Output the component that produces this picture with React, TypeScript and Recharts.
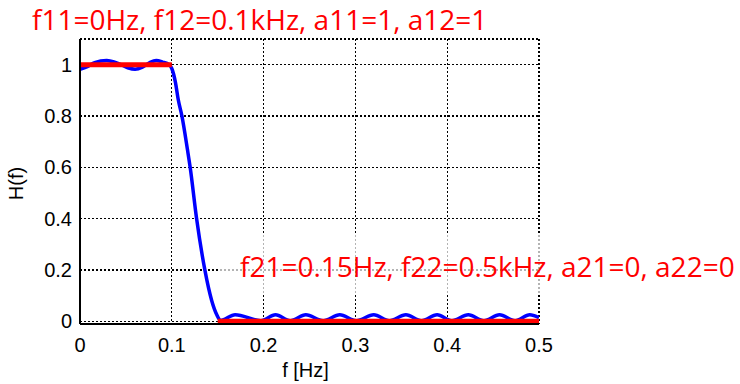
import React from 'react';
import { LineChart, Line, XAxis, YAxis, CartesianGrid, Label } from 'recharts';

// designed frequency response of the low-pass filter
const respFreq = [
  0, 0.008, 0.016, 0.029, 0.042, 0.052, 0.06, 0.068, 0.076, 0.083, 0.09, 0.097,
  0.1, 0.104, 0.107, 0.111, 0.117, 0.12, 0.127, 0.136, 0.1435, 0.149, 0.153,
  0.169, 0.197, 0.213, 0.229, 0.246, 0.265, 0.283, 0.301, 0.32, 0.337, 0.355,
  0.372, 0.389, 0.405, 0.423, 0.44, 0.457, 0.474, 0.49, 0.5,
];
const respMag = [
  0.982, 0.992, 1.008, 1.016, 1.004, 0.988, 0.982, 0.99, 1.008, 1.016, 1.01, 1.0,
  0.985, 0.93, 0.864, 0.8, 0.67, 0.6, 0.4, 0.2, 0.08, 0.025, 0.003,
  0.025, 0.002, 0.025, 0.002, 0.025, 0.002, 0.025, 0.002, 0.025, 0.002, 0.025,
  0.002, 0.025, 0.002, 0.025, 0.002, 0.025, 0.002, 0.025, 0.014,
];

// ideal pass band / stop band specification
const passEdges = [0, 0.1];
const passGain = [1, 1];
const stopEdges = [0.15, 0.5];
const stopGain = [0, 0];

const xTicks = [0, 0.1, 0.2, 0.3, 0.4, 0.5];
const yTicks = [0, 0.2, 0.4, 0.6, 0.8, 1];

const passLabel = 'f11=0Hz, f12=0.1kHz, a11=1, a12=1';
const stopLabel = 'f21=0.15Hz, f22=0.5kHz, a21=0, a22=0';

const respData = respFreq.map((f, i) => ({ f, h: respMag[i] }));
const passData = passEdges.map((f, i) => ({ f, a: passGain[i] }));
const stopData = stopEdges.map((f, i) => ({ f, a: stopGain[i] }));

const tickStyle = { fill: '#000', fontSize: 20 };
const frame = { stroke: '#000', strokeWidth: 2 };

export default function App() {
  return (
    <div
      style={{
        position: 'absolute',
        left: 0,
        top: 0,
        width: 740,
        height: 384,
        background: '#fff',
        fontFamily: '"Liberation Sans", Arial, sans-serif',
      }}
    >
      <LineChart width={740} height={384} margin={{ top: 39, right: 201, bottom: 0, left: 0 }}>
        <CartesianGrid
          stroke="#000"
          strokeDasharray="2 2"
          strokeWidth={1.3}
          shapeRendering="crispEdges"
        />
        <XAxis
          type="number"
          dataKey="f"
          domain={[0, 0.5]}
          ticks={xTicks}
          allowDataOverflow
          height={60}
          axisLine={frame}
          tickLine={false}
          tick={tickStyle}
          tickMargin={8}
        >
          <Label
            content={({ viewBox }: any) => (
              <text
                x={viewBox.x + viewBox.width / 2 - 4}
                y={viewBox.y + 53}
                textAnchor="middle"
                fontSize={20}
                fill="#000"
              >
                f [Hz]
              </text>
            )}
          />
        </XAxis>
        <XAxis
          xAxisId="top"
          orientation="top"
          type="number"
          domain={[0, 0.5]}
          height={0}
          axisLine={frame}
          tick={false}
          tickLine={false}
        />
        <YAxis
          type="number"
          domain={[-0.011, 1.1]}
          ticks={yTicks}
          allowDataOverflow
          width={80}
          axisLine={frame}
          tickLine={false}
          tick={tickStyle}
        >
          <Label
            content={({ viewBox }: any) => {
              const cx = 23;
              const cy = viewBox.y + viewBox.height / 2 + 2;
              return (
                <text
                  x={cx}
                  y={cy}
                  textAnchor="middle"
                  fontSize={20}
                  fill="#000"
                  transform={`rotate(-90, ${cx}, ${cy})`}
                >
                  H(f)
                </text>
              );
            }}
          />
        </YAxis>
        <YAxis
          yAxisId="right"
          orientation="right"
          type="number"
          domain={[-0.011, 1.1]}
          width={0}
          axisLine={frame}
          tick={false}
          tickLine={false}
        />
        <Line
          data={respData}
          dataKey="h"
          type="monotone"
          stroke="#0000ff"
          strokeWidth={3.5}
          dot={false}
          isAnimationActive={false}
        />
        <Line
          data={passData}
          dataKey="a"
          type="linear"
          stroke="#ff0000"
          strokeWidth={5}
          dot={false}
          isAnimationActive={false}
        />
        <Line
          data={stopData}
          dataKey="a"
          type="linear"
          stroke="#ff0000"
          strokeWidth={5}
          dot={false}
          isAnimationActive={false}
        />
      </LineChart>
      {/* text boxes laid over the axes */}
      <svg
        width={740}
        height={384}
        style={{ position: 'absolute', left: 0, top: 0, pointerEvents: 'none' }}
      >
        <rect x={220} y={235} width={520} height={60} fill="#fff" fillOpacity={0.7} />
        <text x={32} y={30} fontFamily='"Open Sans", sans-serif' fontSize={28} fill="#ff0000">
          {passLabel}
        </text>
        <text x={240} y={277} fontFamily='"Open Sans", sans-serif' fontSize={28} fill="#ff0000">
          {stopLabel}
        </text>
      </svg>
    </div>
  );
}
